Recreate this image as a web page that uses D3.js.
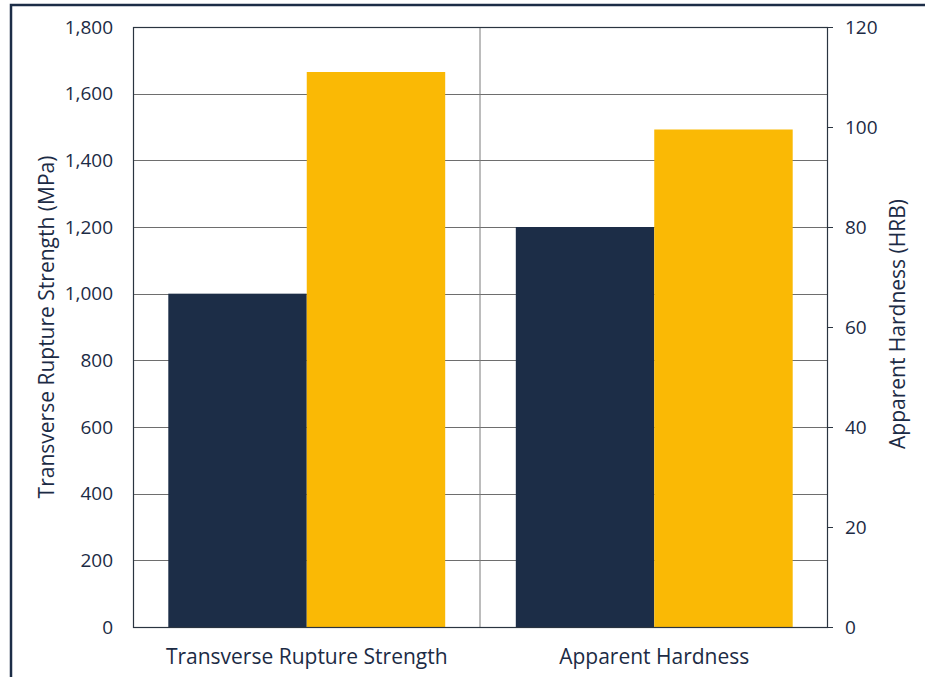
<!DOCTYPE html>
<html>
<head>
<meta charset="utf-8">
<script src="https://cdn.jsdelivr.net/npm/d3@7"></script>
<style>
  html, body { margin: 0; padding: 0; background: #fff; }
  svg { display: block; }
  text { font-family: "Open Sans", "Noto Sans", sans-serif; fill: #1c2b45; }
</style>
</head>
<body>
<svg id="chart" width="925" height="677"></svg>
<script>
// Categories and the two compared series (first category on MPa scale, second on HRB scale)
const categories = ["Transverse Rupture Strength", "Apparent Hardness"];
const seriesDark = [1000, 80];
const seriesGold = [1665, 99.5];
const leftTicks = [0, 200, 400, 600, 800, 1000, 1200, 1400, 1600, 1800];
const rightTicks = [0, 20, 40, 60, 80, 100, 120];
const leftTitle = "Transverse Rupture Strength (MPa)";
const rightTitle = "Apparent Hardness (HRB)";

const navy = "#1c2d47", gold = "#fab905", ink = "#1c2b45";

const svg = d3.select("#chart");
const W = 925, H = 677;
const m = { left: 133, right: 97, top: 27, bottom: 50 };
const x0 = m.left, x1 = W - m.right, y0 = H - m.bottom, y1 = m.top;

// Outer frame
svg.append("rect").attr("x", 11).attr("y", 5).attr("width", W).attr("height", H)
  .attr("fill", "none").attr("stroke", navy).attr("stroke-width", 2.5);

const x = d3.scaleBand().domain(categories).range([x0, x1]).paddingInner(0).paddingOuter(0);
const xs = d3.scaleBand().domain([0, 1]).range([0, x.bandwidth()]).paddingOuter(0.255).paddingInner(0);
const yL = d3.scaleLinear().domain([0, 1800]).range([y0, y1]);
const yR = d3.scaleLinear().domain([0, 120]).range([y0, y1]);
const scaleFor = i => (i === 0 ? yL : yR);

// Horizontal gridlines from the left axis
svg.append("g").selectAll("line").data(leftTicks.slice(1, -1)).join("line")
  .attr("x1", x0).attr("x2", x1)
  .attr("y1", d => Math.round(yL(d)) + 0.5).attr("y2", d => Math.round(yL(d)) + 0.5)
  .attr("stroke", "#6e6e6e").attr("stroke-width", 1);

// Category divider
svg.append("line").attr("x1", x(categories[1]) - 0.5).attr("x2", x(categories[1]) - 0.5)
  .attr("y1", y1).attr("y2", y0).attr("stroke", "#7a7a7a").attr("stroke-width", 1);

// Bars
const groups = svg.append("g").selectAll("g").data(categories).join("g")
  .attr("transform", d => `translate(${x(d)},0)`);
groups.each(function(c, i) {
  const s = scaleFor(i);
  const vals = [seriesDark[i], seriesGold[i]];
  const cols = [navy, gold];
  d3.select(this).selectAll("rect").data(vals).join("rect")
    .attr("x", (d, j) => xs(j))
    .attr("width", xs.bandwidth())
    .attr("y", d => s(d))
    .attr("height", d => y0 - s(d))
    .attr("fill", (d, j) => cols[j]);
});

// Plot frame
svg.append("rect").attr("x", x0 + 0.5).attr("y", y1 + 0.5)
  .attr("width", x1 - x0 - 1).attr("height", y0 - y1)
  .attr("fill", "none").attr("stroke", "#2a3440").attr("stroke-width", 1.2);

// Left axis
const gL = svg.append("g").attr("transform", `translate(${x0},0)`)
  .call(d3.axisLeft(yL).tickValues(leftTicks).tickSize(0).tickPadding(20).tickFormat(d3.format(",")));
gL.select(".domain").remove();
gL.selectAll("text").style("font-size", "19px").attr("fill", ink);

// Right axis
const gR = svg.append("g").attr("transform", `translate(${x1},0)`)
  .call(d3.axisRight(yR).tickValues(rightTicks).tickSize(5).tickPadding(12).tickFormat(d3.format("d")));
gR.select(".domain").remove();
gR.selectAll("line").attr("stroke", "#2a3440");
gR.selectAll("text").style("font-size", "19px").attr("fill", ink);

// Category labels
svg.append("g").selectAll("text").data(categories).join("text")
  .attr("x", d => x(d) + x.bandwidth() / 2).attr("y", y0 + 37)
  .attr("text-anchor", "middle").style("font-size", "21px").text(d => d);

// Axis titles
svg.append("text").attr("transform", `translate(54,${(y0 + y1) / 2}) rotate(-90)`)
  .attr("text-anchor", "middle").style("font-size", "21px").text(leftTitle);
svg.append("text").attr("transform", `translate(905,${(y0 + y1) / 2 - 3}) rotate(-90)`)
  .attr("text-anchor", "middle").style("font-size", "21px").text(rightTitle);
</script>
</body>
</html>
